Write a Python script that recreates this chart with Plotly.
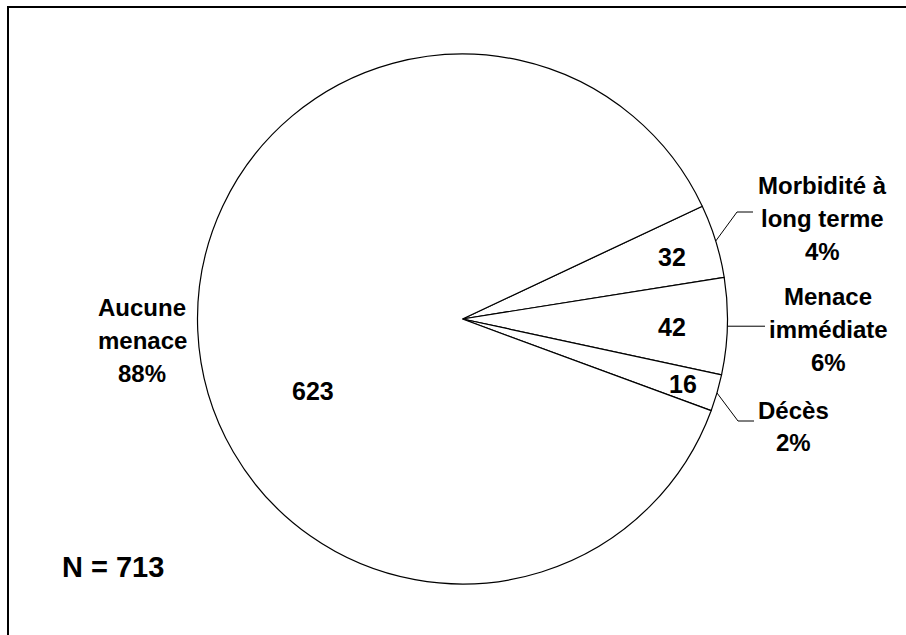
import math
import plotly.graph_objects as go

# Slices, clockwise from the first small slice
categories = ["Morbidité à long terme", "Menace immédiate", "Décès", "Aucune menace"]
counts = [32, 42, 16, 623]
shown_percents = [4, 6, 2, 88]
label_lines = [
    ["Morbidité à", "long terme"],
    ["Menace", "immédiate"],
    ["Décès"],
    ["Aucune", "menace"],
]
total = sum(counts)

W, H = 906, 635
CX, CY, R = 462.5, 319.0, 265.0
ROTATION = 64.8
FONT = "Arial, Liberation Sans, sans-serif"


def px(x):
    return x / W


def py(y):
    return 1 - y / H


fig = go.Figure()
fig.add_trace(go.Pie(
    labels=categories,
    values=counts,
    sort=False,
    direction="clockwise",
    rotation=ROTATION,
    textinfo="none",
    hoverinfo="label+value+percent",
    marker=dict(colors=["#ffffff"] * len(counts), line=dict(color="#000000", width=1.2)),
    domain=dict(x=[px(CX - R), px(CX + R)], y=[py(CY + R), py(CY - R)]),
    showlegend=False,
))

# mid-angle of each slice (degrees clockwise from 12 o'clock)
mids = []
acc = ROTATION
for c in counts:
    span = 360 * c / total
    mids.append(acc + span / 2)
    acc += span


def edge_point(angle_deg, rad):
    a = math.radians(angle_deg)
    return CX + rad * math.sin(a), CY - rad * math.cos(a)


annotations = []
shapes = []

# value labels inside the slices
value_pos = [(672, 257), (672, 327), (683, 384), (313, 391)]
for c, (x, y) in zip(counts, value_pos):
    annotations.append(dict(
        x=px(x), y=py(y), xref="paper", yref="paper", text=f"<b>{c}</b>",
        showarrow=False, xanchor="center", yanchor="middle",
        font=dict(family=FONT, size=25, color="#000000"),
    ))

# category labels outside the pie, one annotation per line
label_center = [(822, 186), (828, 297), (793, 410), (142, 308)]
line_gap = 32.5
for lines, pct, (x, y0) in zip(label_lines, shown_percents, label_center):
    for k, t in enumerate(lines + [f"{pct}%"]):
        annotations.append(dict(
            x=px(x), y=py(y0 + k * line_gap), xref="paper", yref="paper",
            text=f"<b>{t}</b>", showarrow=False, xanchor="center", yanchor="middle",
            font=dict(family=FONT, size=24, color="#000000"),
        ))

# leader lines from the slice edge to the label
leader_bends = {0: [(737, 212), (753, 212)], 1: [(765, None)], 2: [(738, 421), (754, 421)]}
for i, pts in leader_bends.items():
    x0, y0 = edge_point(mids[i], R)
    path = f"M {px(x0)} {py(y0)}"
    for (x, y) in pts:
        path += f" L {px(x)} {py(y0 if y is None else y)}"
    shapes.append(dict(type="path", xref="paper", yref="paper", path=path,
                       line=dict(color="#000000", width=1)))

# sample size note
annotations.append(dict(
    x=px(113), y=py(567), xref="paper", yref="paper", text=f"<b>N = {total}</b>",
    showarrow=False, xanchor="center", yanchor="middle",
    font=dict(family=FONT, size=29, color="#000000"),
))

# chart frame (runs off the right and bottom edges)
shapes.append(dict(type="rect", xref="paper", yref="paper",
                   x0=px(8), x1=px(W + 20), y0=py(H + 20), y1=py(7),
                   line=dict(color="#000000", width=2), fillcolor="rgba(0,0,0,0)"))

fig.update_layout(
    width=W, height=H,
    margin=dict(l=0, r=0, t=0, b=0),
    paper_bgcolor="#ffffff", plot_bgcolor="#ffffff",
    annotations=annotations, shapes=shapes,
    font=dict(family=FONT),
)

fig.write_html("out.html")
